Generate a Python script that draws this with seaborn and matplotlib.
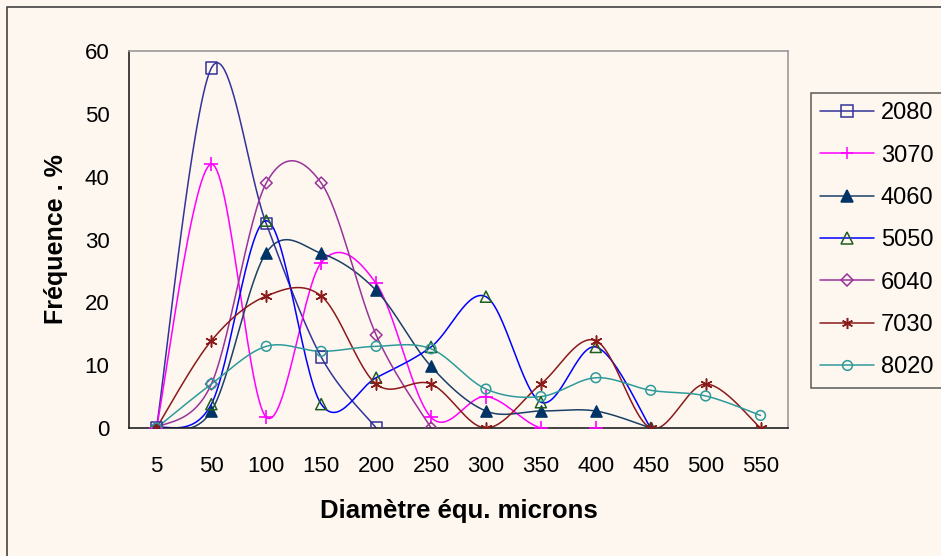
import numpy as np
import pandas as pd
import matplotlib
matplotlib.use("Agg")
import matplotlib.pyplot as plt
from matplotlib.lines import Line2D
from matplotlib.patches import Rectangle
import seaborn as sns

# ---- data ----
categories = ["5", "50", "100", "150", "200", "250", "300", "350", "400", "450", "500", "550"]
s2080 = [0, 57.3, 32.5, 11.3, 0]
s3070 = [0, 42, 1.7, 26.3, 23, 1.7, 5, 0, 0]
s4060 = [0, 2.7, 27.9, 27.8, 21.9, 9.8, 2.7, 2.7, 2.7, 0]
s5050 = [0, 3.8, 33, 3.8, 8, 12.9, 20.9, 4.1, 12.9, 0]
s6040 = [0, 7, 39, 39, 14.8, 0]
s7030 = [0, 13.9, 21, 21, 7, 7, 0, 7, 13.9, 0, 7, 0]
s8020 = [0, 7, 13, 12.2, 13, 12.6, 6.2, 5, 8, 6, 5.1, 2]
series_names = ["2080", "3070", "4060", "5050", "6040", "7030", "8020"]
series_values = [s2080, s3070, s4060, s5050, s6040, s7030, s8020]

line_colors = ["#333399", "#FF00FF", "#1B3F66", "#0000FF", "#993399", "#8B1A1A", "#2E9A9A"]
marker_edge = ["#333399", "#FF00FF", "#003366", "#1E5E1E", "#993399", "#8B1A1A", "#2E9A9A"]
marker_face = ["none", "none", "#003366", "none", "none", "#8B1A1A", "none"]
markers = ["s", "|", "^", "^", "D", (6, 2, 0), "o"]
msizes = [8, 9, 8, 8, 6, 8, 7]

BG = "#FDF7F0"

sns.set_theme(style="white")
plt.rcParams["font.family"] = ["Liberation Sans", "DejaVu Sans"]
plt.rcParams["text.color"] = "black"
plt.rcParams["xtick.color"] = "black"
plt.rcParams["ytick.color"] = "black"
plt.rcParams["axes.labelcolor"] = "black"


def excel_smooth(y, n=30):
    """Excel-style smoothed line: cubic Bezier with Catmull-Rom control points."""
    y = np.asarray(y, dtype=float)
    x = np.arange(len(y), dtype=float)
    P = np.column_stack([x, y])
    out = []
    t = np.linspace(0, 1, n)[:, None]
    for i in range(len(P) - 1):
        p0 = P[i - 1] if i > 0 else P[i]
        p1 = P[i]
        p2 = P[i + 1]
        p3 = P[i + 2] if i + 2 < len(P) else P[i + 1]
        c1 = p1 + (p2 - p0) / 6.0
        c2 = p2 - (p3 - p1) / 6.0
        seg = ((1 - t) ** 3) * p1 + 3 * ((1 - t) ** 2) * t * c1 + 3 * (1 - t) * t ** 2 * c2 + t ** 3 * p2
        out.append(seg if i == 0 else seg[1:])
    out = np.vstack(out)
    return out[:, 0], out[:, 1]


W, H = 941, 556
fig = plt.figure(figsize=(W / 100, H / 100), dpi=100)
fig.patch.set_facecolor(BG)
ax = fig.add_axes([129 / W, (H - 428) / H, (788 - 129) / W, (428 - 51) / H])
ax.set_facecolor(BG)

for name, vals, lc, me, mf, mk, ms in zip(series_names, series_values, line_colors,
                                            marker_edge, marker_face, markers, msizes):
    sx, sy = excel_smooth(vals)
    sns.lineplot(x=sx, y=sy, ax=ax, color=lc, lw=1.1, sort=False, estimator=None, zorder=2)
    df = pd.DataFrame({"x": np.arange(len(vals)), "y": vals})
    if mk == "|":
        ax.scatter(df["x"], df["y"], marker="+", s=ms ** 2 * 1.3, color=me, linewidths=1.2, zorder=3)
    else:
        sns.scatterplot(data=df, x="x", y="y", ax=ax, marker=mk, s=ms ** 2,
                        facecolor=mf if mf != "none" else "none", edgecolor=me,
                        linewidth=1.1, zorder=3, legend=False)

ax.set_xlim(-0.5, len(categories) - 0.5)
ax.set_ylim(0, 60)
ax.set_yticks(np.arange(0, 61, 10))
ax.set_xticks(np.arange(-0.5, len(categories), 1.0))
ax.set_xticklabels([])
ax.set_xticks(np.arange(len(categories)), minor=True)
ax.set_xticklabels(categories, minor=True)
ax.tick_params(axis="x", which="major", direction="inout", length=14, width=1.1, color="#222222")
ax.tick_params(axis="x", which="minor", length=0, pad=20, labelsize=16)
ax.tick_params(axis="y", which="major", direction="inout", length=14, width=1.1, color="#222222",
               labelsize=16, pad=7)

for s in ["left", "bottom"]:
    ax.spines[s].set_color("#222222")
    ax.spines[s].set_linewidth(1.2)
for s in ["top", "right"]:
    ax.spines[s].set_color("#9A9A9A")
    ax.spines[s].set_linewidth(1.2)

ax.set_xlabel("Diamètre équ. microns", fontsize=18.5, fontweight="bold", labelpad=16)
ax.set_ylabel("Fréquence . %", fontsize=18, fontweight="bold", labelpad=12)

handles = []
for lc, me, mf, mk, ms in zip(line_colors, marker_edge, marker_face, markers, msizes):
    m = "+" if mk == "|" else mk
    handles.append(Line2D([0], [0], color=lc, lw=1.1, marker=m, markersize=ms,
                          markerfacecolor=mf, markeredgecolor=me, markeredgewidth=1.1))
leg = fig.legend(handles, series_names, loc="upper left",
                 bbox_to_anchor=(811 / W, 1 - 93 / H), frameon=True, fontsize=17,
                 handlelength=2.25, labelspacing=0.86, borderpad=0.4, handletextpad=0.3,
                 borderaxespad=0.0, fancybox=False)
leg.get_frame().set_edgecolor("#333333")
leg.get_frame().set_facecolor(BG)
leg.get_frame().set_linewidth(1.1)

fig.add_artist(Rectangle((7 / W, -0.1), 1.2, 1 - 7 / H + 0.1, transform=fig.transFigure,
                         fill=False, edgecolor="#444444", lw=1.2))

fig.savefig("out.png", dpi=100, facecolor=BG)
